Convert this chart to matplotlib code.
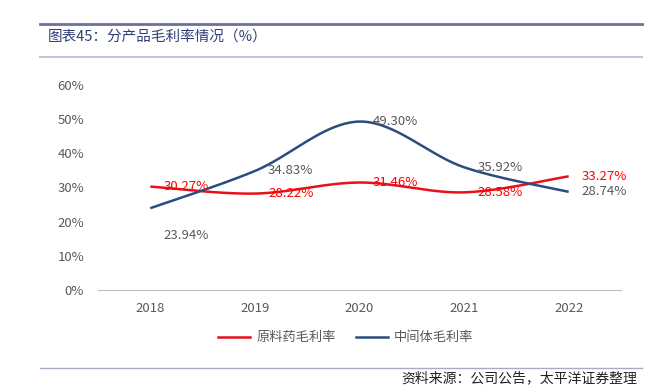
import matplotlib.pyplot as plt
import numpy as np
from matplotlib.lines import Line2D

plt.rcParams["font.family"] = ["Noto Sans CJK SC", "DejaVu Sans"]

years = ["2018", "2019", "2020", "2021", "2022"]
api_margin = [30.27, 28.22, 31.46, 28.58, 33.27]
intermediate_margin = [23.94, 34.83, 49.30, 35.92, 28.74]
y_ticks = [0, 10, 20, 30, 40, 50, 60]

RED = "#E8101A"
BLUE = "#2B4C7E"
GREY = "#595959"


def smooth(values, steps=40):
    """Catmull-Rom curve through the points, like Excel's smoothed line."""
    pts = np.column_stack([np.arange(len(values)), values]).astype(float)
    padded = np.vstack([pts[0], pts, pts[-1]])
    out = []
    for i in range(1, len(padded) - 2):
        p0, p1, p2, p3 = padded[i - 1], padded[i], padded[i + 1], padded[i + 2]
        c1 = p1 + (p2 - p0) / 6
        c2 = p2 - (p3 - p1) / 6
        t = np.linspace(0, 1, steps)[:, None]
        seg = ((1 - t) ** 3) * p1 + 3 * ((1 - t) ** 2) * t * c1 + 3 * (1 - t) * t**2 * c2 + t**3 * p2
        out.append(seg)
    curve = np.vstack(out)
    return curve[:, 0], curve[:, 1]


fig = plt.figure(figsize=(6.7, 3.86), dpi=100)
ax = fig.add_axes([98 / 670, 1 - 290 / 386, (621 - 98) / 670, (290 - 85) / 386])

x = np.arange(len(years))
for values, color in [(api_margin, RED), (intermediate_margin, BLUE)]:
    sx, sy = smooth(values)
    ax.plot(sx, sy, color=color, lw=1.8, solid_capstyle="butt")

# data labels
for i, v in enumerate(api_margin):
    ax.annotate(f"{v:.2f}%", (x[i], v), xytext=(9.5, 0), textcoords="offset points",
                ha="left", va="center", color="#FF0000", fontsize=9.5)
for i, v in enumerate(intermediate_margin):
    dy = -20 if i == 0 else 0
    ax.annotate(f"{v:.2f}%", (x[i], v), xytext=(9.5, dy), textcoords="offset points",
                ha="left", va="center", color=GREY, fontsize=9.5)

ax.set_xlim(-0.5, len(years) - 0.5)
ax.set_ylim(0, 60)
ax.set_xticks(x)
ax.set_xticklabels(years)
ax.set_yticks(y_ticks)
ax.set_yticklabels([f"{t}%" for t in y_ticks])
ax.tick_params(length=0, colors=GREY, labelsize=9.5)
ax.tick_params(axis="y", pad=10)
ax.tick_params(axis="x", pad=9)
for side in ["top", "right", "left"]:
    ax.spines[side].set_visible(False)
ax.spines["bottom"].set_color("#BFBFBF")
ax.spines["bottom"].set_linewidth(0.8)

handles = [Line2D([], [], color=RED, lw=1.8), Line2D([], [], color=BLUE, lw=1.8)]
fig.legend(handles, ["原料药毛利率", "中间体毛利率"], loc="center", bbox_to_anchor=(346 / 670, 1 - 338 / 386),
           ncol=2, frameon=False, fontsize=9.5, labelcolor=GREY, handlelength=2.4, columnspacing=1.5,
           handletextpad=0.5)

# header and footer rules
fig.add_artist(Line2D([40 / 670, 642 / 670], [1 - 24 / 386] * 2, color="#6E6F9E", lw=2))
fig.add_artist(Line2D([40 / 670, 642 / 670], [1 - 57 / 386] * 2, color="#C4C4DC", lw=1.5))
fig.add_artist(Line2D([40 / 670, 642 / 670], [1 - 368 / 386] * 2, color="#A9A9CC", lw=1))
fig.text(48 / 670, 1 - 37 / 386, "图表45：分产品毛利率情况（%）", color="#2E3F77", fontsize=10.5, va="center")
fig.text(637 / 670, 1 - 378 / 386, "资料来源：公司公告，太平洋证券整理", color="#222222", fontsize=10,
         va="center", ha="right", style="italic")

fig.savefig("out.png", dpi=100)
